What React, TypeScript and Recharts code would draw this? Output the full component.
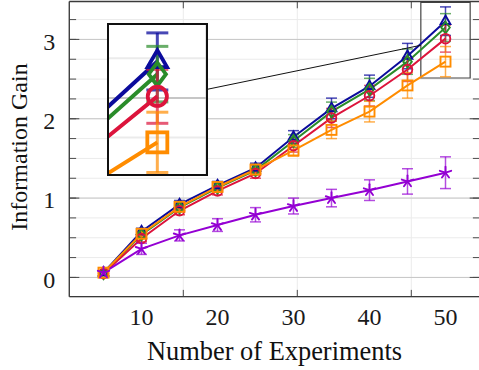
import React from 'react';
import { LineChart, Line, XAxis, YAxis, CartesianGrid, ErrorBar, ReferenceLine, ReferenceArea } from 'recharts';

document.body.style.margin = '0';

// x values (number of experiments)
const experiments = [5, 10, 15, 20, 25, 30, 35, 40, 45, 50];

// information gain per method
const blueGain = [0.06, 0.58, 0.92, 1.16, 1.38, 1.77, 2.13, 2.41, 2.79, 3.23];
const greenGain = [0.05, 0.54, 0.88, 1.13, 1.35, 1.72, 2.09, 2.37, 2.72, 3.15];
const redGain = [0.05, 0.49, 0.84, 1.09, 1.31, 1.66, 2.01, 2.29, 2.62, 3.01];
const orangeGain = [0.06, 0.55, 0.89, 1.14, 1.36, 1.6, 1.86, 2.09, 2.42, 2.72];
const purpleGain = [0.06, 0.36, 0.53, 0.66, 0.79, 0.9, 1.0, 1.1, 1.21, 1.32];

// symmetric error bars
const blueErr = [0.02, 0.04, 0.05, 0.05, 0.06, 0.08, 0.13, 0.14, 0.16, 0.18];
const greenErr = [0.02, 0.04, 0.05, 0.05, 0.06, 0.08, 0.12, 0.14, 0.16, 0.175];
const redErr = [0.02, 0.04, 0.05, 0.05, 0.06, 0.08, 0.12, 0.13, 0.15, 0.17];
const orangeErr = [0.02, 0.04, 0.05, 0.05, 0.06, 0.07, 0.11, 0.13, 0.16, 0.19];
const purpleErr = [0.02, 0.07, 0.07, 0.08, 0.09, 0.1, 0.11, 0.13, 0.16, 0.2];

const xMajorTicks = [10, 20, 30, 40, 50];
const xMinorTicks = [2.5, 5, 7.5, 10, 12.5, 15, 17.5, 20, 22.5, 25, 27.5, 30, 32.5, 35, 37.5, 40, 42.5, 45, 47.5, 50, 52.5];
const yMajorTicks = [0, 1, 2, 3];
const yMinorTicks = [0, 0.25, 0.5, 0.75, 1, 1.25, 1.5, 1.75, 2, 2.25, 2.5, 2.75, 3, 3.25];

const series = [
  { key: 'blue', color: '#0b0b9c', err: 'rgba(11,11,156,0.75)', shape: 'triangle', values: blueGain, errors: blueErr },
  { key: 'green', color: '#2a8c2a', err: 'rgba(42,140,42,0.7)', shape: 'diamond', values: greenGain, errors: greenErr },
  { key: 'red', color: '#dc143c', err: 'rgba(220,20,60,0.7)', shape: 'circle', values: redGain, errors: redErr },
  { key: 'orange', color: '#ff8c00', err: 'rgba(255,140,0,0.7)', shape: 'square', values: orangeGain, errors: orangeErr },
  { key: 'purple', color: '#9400d3', err: 'rgba(148,0,211,0.7)', shape: 'star', values: purpleGain, errors: purpleErr },
];

const rows = experiments.map((x, i) => {
  const row: any = { x };
  series.forEach((s) => {
    row[s.key] = s.values[i];
    row[`${s.key}Err`] = s.errors[i];
  });
  return row;
});

// layout
const CHART_W = 482;
const CHART_H = 370;
const PLOT_LEFT = 69.3;
const PLOT_RIGHT = 479.7;
const PLOT_TOP = 1.5;
const PLOT_BOTTOM = 296.7;
const X_DOMAIN: [number, number] = [0.5, 54.5];
const Y_DOMAIN: [number, number] = [-0.243, 3.478];
const pxPerX = (PLOT_RIGHT - PLOT_LEFT) / (X_DOMAIN[1] - X_DOMAIN[0]);
const pxPerY = (PLOT_BOTTOM - PLOT_TOP) / (Y_DOMAIN[1] - Y_DOMAIN[0]);

// spy (magnified) region
const SPY_X = 50;
const SPY_Y = 2.99;
const SPY_HW = 3.245;
const SPY_HH = 0.476;
const MAG = 2;
const INSET_LEFT = 108.3;
const INSET_TOP = 24;
const insetW = 2 * SPY_HW * pxPerX * MAG;
const insetH = 2 * SPY_HH * pxPerY * MAG;

const toDataX = (px: number) => X_DOMAIN[0] + (px - PLOT_LEFT) / pxPerX;
const toDataY = (py: number) => Y_DOMAIN[1] - (py - PLOT_TOP) / pxPerY;

// connector between inset and spy box (centre to centre, cut at both borders)
const spyCx = PLOT_LEFT + (SPY_X - X_DOMAIN[0]) * pxPerX;
const spyCy = PLOT_TOP + (Y_DOMAIN[1] - SPY_Y) * pxPerY;
const insCx = INSET_LEFT + insetW / 2;
const insCy = INSET_TOP + insetH / 2;
const dX = spyCx - insCx;
const dY = spyCy - insCy;
const t1 = insetW / 2 / dX;
const t2 = 1 - (SPY_HW * pxPerX) / dX;
const connector = [
  { x: toDataX(insCx + dX * t1), y: toDataY(insCy + dY * t1) },
  { x: toDataX(insCx + dX * t2), y: toDataY(insCy + dY * t2) },
];

const serif = "'Liberation Serif', 'Times New Roman', serif";
const AXIS_COLOR = '#3a3a3a';
const TICK_COLOR = '#4a4a4a';
const MAJOR_GRID = '#c6c6c6';
const MINOR_GRID = '#ebebeb';
const THIN = 0.01; // mirror axes need a non-zero size to be drawn

const NoTick = () => <g />;

const XTick = (props: any) => {
  const { x, y, payload } = props;
  return (
    <text x={x} y={y + 16.3} textAnchor="middle" fontFamily={serif} fontSize={24} fill="#1a1a1a">
      {payload.value}
    </text>
  );
};

const YTick = (props: any) => {
  const { x, y, payload } = props;
  return (
    <text x={x} y={y + 10.3} textAnchor="end" fontFamily={serif} fontSize={24} fill="#1a1a1a">
      {payload.value}
    </text>
  );
};

const XTitle = () => (
  <text x={(PLOT_LEFT + PLOT_RIGHT) / 2} y={360} textAnchor="middle" fontFamily={serif} fontSize={26.4} fill="#111">
    Number of Experiments
  </text>
);

const YTitle = () => (
  <text x={27} y={147} transform="rotate(-90, 27, 147)" textAnchor="middle" fontFamily={serif} fontSize={24} fill="#111">
    Information Gain
  </text>
);

const Marker = ({ cx, cy, shape, color, k }: any) => {
  if (cx == null || cy == null || Number.isNaN(cx) || Number.isNaN(cy)) return <g />;
  const common = { fill: 'none', stroke: color, strokeWidth: 1.9 * k, strokeLinejoin: 'miter' as const };
  if (shape === 'triangle') {
    const r = 5.6 * k;
    return <polygon points={`${cx},${cy - r} ${cx + r * 0.866},${cy + r / 2} ${cx - r * 0.866},${cy + r / 2}`} {...common} />;
  }
  if (shape === 'diamond') {
    const w = 4.3 * k;
    const h = 5.8 * k;
    return <polygon points={`${cx},${cy - h} ${cx + w},${cy} ${cx},${cy + h} ${cx - w},${cy}`} {...common} />;
  }
  if (shape === 'circle') return <circle cx={cx} cy={cy} r={4.8 * k} {...common} />;
  if (shape === 'square') {
    const h = 5 * k;
    return <rect x={cx - h} y={cy - h} width={2 * h} height={2 * h} {...common} />;
  }
  const r = 6 * k;
  return (
    <g stroke={color} strokeWidth={1.9 * k} strokeLinecap="round">
      {[0, 1, 2, 3, 4].map((i) => {
        const a = (-90 + i * 72) * (Math.PI / 180);
        return <line key={i} x1={cx} y1={cy} x2={cx + r * Math.cos(a)} y2={cy + r * Math.sin(a)} />;
      })}
    </g>
  );
};

const renderSeries = (k: number) =>
  series.map((s) => (
    <Line
      key={s.key}
      dataKey={s.key}
      type="linear"
      stroke={s.color}
      strokeWidth={2 * k}
      isAnimationActive={false}
      activeDot={false}
      dot={(p: any) => <Marker key={`${s.key}-${p.index}`} cx={p.cx} cy={p.cy} shape={s.shape} color={s.color} k={k} />}
    >
      <ErrorBar dataKey={`${s.key}Err`} direction="y" width={5.5 * k} strokeWidth={1.5 * k} stroke={s.err} isAnimationActive={false} />
    </Line>
  ));

// axes without labels that only draw inward tick marks (and feed the grids)
const markAxisX = (id: string, orientation: 'top' | 'bottom', ticks: number[], domain: [number, number], size: number, stroke: string, axisLine: any = false) => (
  <XAxis
    key={id}
    xAxisId={id}
    orientation={orientation}
    mirror
    height={THIN}
    type="number"
    domain={domain}
    allowDataOverflow
    ticks={ticks}
    interval={0}
    tick={NoTick}
    tickSize={size}
    tickLine={size > 0 ? { stroke, strokeWidth: 1 } : false}
    axisLine={axisLine}
  />
);

const markAxisY = (id: string, orientation: 'left' | 'right', ticks: number[], domain: [number, number], size: number, stroke: string) => (
  <YAxis
    key={id}
    yAxisId={id}
    orientation={orientation}
    mirror
    width={THIN}
    type="number"
    domain={domain}
    allowDataOverflow
    ticks={ticks}
    interval={0}
    tick={NoTick}
    tickSize={size}
    tickLine={size > 0 ? { stroke, strokeWidth: 1 } : false}
    axisLine={false}
  />
);

const insetX: [number, number] = [SPY_X - SPY_HW, SPY_X + SPY_HW];
const insetY: [number, number] = [SPY_Y - SPY_HH, SPY_Y + SPY_HH];
const topGap = (Y_DOMAIN[1] - insetY[1]) * pxPerY * MAG;

export default function App() {
  return (
    <div style={{ position: 'relative', width: 479, height: CHART_H, overflow: 'hidden', background: '#fff' }}>
      <LineChart width={CHART_W} height={CHART_H} data={rows} margin={{ top: PLOT_TOP, right: CHART_W - PLOT_RIGHT, bottom: 0, left: 0 }}>
        {markAxisX('bMinor', 'bottom', xMinorTicks, X_DOMAIN, 6.8, TICK_COLOR)}
        {markAxisX('bMajor', 'bottom', xMajorTicks, X_DOMAIN, 10, TICK_COLOR)}
        {markAxisX('tMinor', 'top', xMinorTicks, X_DOMAIN, 6.8, TICK_COLOR)}
        {markAxisX('tMajor', 'top', xMajorTicks, X_DOMAIN, 10, TICK_COLOR, { stroke: AXIS_COLOR, strokeWidth: 1.3 })}
        {markAxisY('lMinor', 'left', yMinorTicks, Y_DOMAIN, 6.8, TICK_COLOR)}
        {markAxisY('lMajor', 'left', yMajorTicks, Y_DOMAIN, 10, TICK_COLOR)}
        {markAxisY('rMinor', 'right', yMinorTicks, Y_DOMAIN, 6.8, TICK_COLOR)}
        {markAxisY('rMajor', 'right', yMajorTicks, Y_DOMAIN, 10, TICK_COLOR)}
        <CartesianGrid xAxisId="bMinor" yAxisId="lMinor" stroke={MINOR_GRID} strokeWidth={1} />
        <CartesianGrid xAxisId="bMajor" yAxisId="lMajor" stroke={MAJOR_GRID} strokeWidth={1} />
        <XAxis
          dataKey="x"
          type="number"
          domain={X_DOMAIN}
          allowDataOverflow
          ticks={xMajorTicks}
          interval={0}
          height={CHART_H - PLOT_BOTTOM}
          tickLine={false}
          tickSize={10}
          tickMargin={2}
          axisLine={{ stroke: AXIS_COLOR, strokeWidth: 1.3 }}
          tick={<XTick />}
          label={<XTitle />}
        />
        <YAxis
          type="number"
          domain={Y_DOMAIN}
          allowDataOverflow
          ticks={yMajorTicks}
          interval={0}
          width={PLOT_LEFT}
          tickLine={false}
          tickSize={10}
          tickMargin={4}
          axisLine={{ stroke: AXIS_COLOR, strokeWidth: 1.3 }}
          tick={<YTick />}
          label={<YTitle />}
        />
        {renderSeries(1)}
        <ReferenceArea
          x1={insetX[0]}
          x2={insetX[1]}
          y1={insetY[0]}
          y2={insetY[1]}
          fill="none"
          fillOpacity={0}
          stroke="#444"
          strokeWidth={1.2}
          ifOverflow="visible"
        />
        <ReferenceLine segment={connector} stroke="#111" strokeWidth={1} ifOverflow="visible" />
      </LineChart>

      <div style={{ position: 'absolute', left: INSET_LEFT, top: INSET_TOP, width: insetW, height: insetH, background: '#fff' }}>
        <LineChart width={insetW} height={insetH} data={rows} margin={{ top: 0, right: 0, bottom: 0, left: 0 }}>
          {markAxisX('iGridMinX', 'bottom', [47.5, 50, 52.5], insetX, 0, TICK_COLOR)}
          {markAxisY('iGridMinY', 'left', [2.75, 3, 3.25], insetY, 0, TICK_COLOR)}
          {markAxisX('iGridMajX', 'bottom', [50], insetX, 0, TICK_COLOR)}
          {markAxisY('iGridMajY', 'left', [3], insetY, 0, TICK_COLOR)}
          <CartesianGrid xAxisId="iGridMinX" yAxisId="iGridMinY" stroke={MINOR_GRID} strokeWidth={2} />
          <CartesianGrid xAxisId="iGridMajX" yAxisId="iGridMajY" stroke={MAJOR_GRID} strokeWidth={2} />
          {markAxisX('iTopMinor', 'top', [47.5, 52.5], insetX, 6.8 * MAG - topGap, TICK_COLOR)}
          {markAxisX('iTopMajor', 'top', [50], insetX, 10 * MAG - topGap, TICK_COLOR)}
          <XAxis dataKey="x" type="number" domain={insetX} allowDataOverflow hide />
          <YAxis type="number" domain={insetY} allowDataOverflow hide />
          {renderSeries(MAG)}
        </LineChart>
      </div>
      <div
        style={{
          position: 'absolute',
          left: INSET_LEFT - 1,
          top: INSET_TOP - 1,
          width: insetW + 2,
          height: insetH + 2,
          border: '2px solid #111',
          boxSizing: 'border-box',
          pointerEvents: 'none',
        }}
      />
    </div>
  );
}
